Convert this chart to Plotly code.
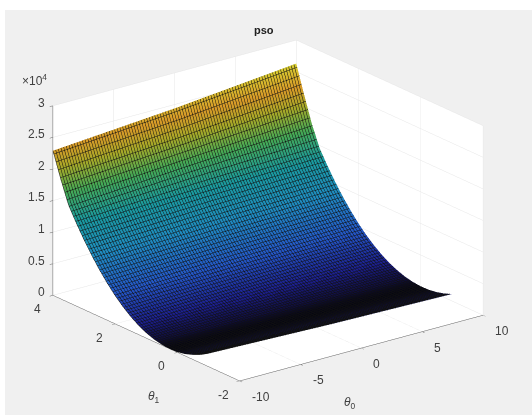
import math
import plotly.graph_objects as go

theta0 = [-10, 0, 10]
theta1 = [-1.0, -0.75, -0.5, -0.25, 0.0, 0.25, 0.5, 0.75, 1.0, 1.25, 1.5, 1.75, 2.0, 2.25, 2.5, 2.75, 3.0, 3.25, 3.5, 3.75, 4.0]
z_left = [2100, 1350, 780, 340, 90, 30, 130, 400, 850, 1480, 2300, 3300, 4480, 5850, 7400, 9130, 11050, 13150, 15450, 19000, 22900]
z_mid = [1500, 900, 450, 170, 50, 80, 290, 670, 1200, 1920, 2800, 3860, 5100, 6520, 8120, 9900, 11870, 14030, 16800, 20300, 24400]
z_right = [1100, 620, 280, 90, 60, 180, 450, 880, 1470, 2230, 3150, 4240, 5500, 6950, 8580, 10400, 12400, 14600, 17900, 22000, 26300]
z_ticks = [0, 5000, 10000, 15000, 20000, 25000, 30000]
z_labels = ["0", "0.5", "1", "1.5", "2", "2.5", "3"]
x_ticks = [-10, -5, 0, 5, 10]
x_labels = ["-10", "-5", "0", "5", "10"]
y_ticks = [-2, 0, 2, 4]
y_labels = ["-2", "0", "2", "4"]

z_grid = [[a, b, c] for a, b, c in zip(z_left, z_mid, z_right)]

colors = [
    [0.0, "#050510"], [0.012, "#100e40"], [0.06, "#1c1f90"], [0.18, "#2458c8"],
    [0.35, "#1f8cc0"], [0.5, "#1a9aa0"], [0.65, "#45a855"], [0.78, "#a8a828"],
    [0.88, "#d89a28"], [1.0, "#d8cf30"],
]

fig = go.Figure(go.Surface(
    x=theta0, y=theta1, z=z_grid, colorscale=colors, cmin=0, cmax=26300,
    showscale=False, hoverinfo="skip",
    lighting=dict(ambient=1, diffuse=0, specular=0, roughness=1, fresnel=0),
    contours=dict(
        x=dict(show=True, start=-10, end=10, size=0.22, color="#101010", width=1, highlight=False),
        y=dict(show=True, start=-1, end=4, size=0.07, color="#101010", width=1, highlight=False),
        z=dict(show=False, highlight=False),
    ),
))

font = dict(family="Liberation Sans", size=12, color="#404040")
def axis(**kw):
    return dict(showbackground=True, backgroundcolor="white", gridcolor="#e6e6e6", gridwidth=1,
                showline=True, linecolor="#606060", linewidth=1, ticks="outside", ticklen=4,
                tickcolor="#606060", showticklabels=False, zeroline=False, showspikes=False,
                title=dict(text=""), **kw)

def label(x, y, z, text, xshift, yshift, xanchor="center"):
    return dict(x=x, y=y, z=z, text=text, showarrow=False, xshift=xshift, yshift=yshift,
                xanchor=xanchor, yanchor="middle", font=font)

scene_notes = (
    [label(v, -2, 0, t, 10, -16, "left") for v, t in zip(x_ticks, x_labels)]
    + [label(-10, v, 0, t, -16, -14) for v, t in zip(y_ticks, y_labels)]
    + [label(-10, 4, v, t, -6, 3, "right") for v, t in zip(z_ticks, z_labels)]
    + [label(0, -2, 0, "<i>θ</i><sub>0</sub>", -11, -55), label(-10, 1, 0, "<i>θ</i><sub>1</sub>", 8, -59)]
)

az = math.radians(37.5)
el = math.radians(20.6)
d = 2.0
s = 1.515
fig.update_layout(
    width=532, height=415, margin=dict(l=0, r=0, t=0, b=0), paper_bgcolor="#f0f0f0",
    showlegend=False,
    scene=dict(
        domain=dict(x=[0.008, 1], y=[0.005, 0.981]),
        aspectmode="manual", aspectratio=dict(x=s, y=s, z=0.66 * s),
        camera=dict(projection=dict(type="orthographic"),
                    eye=dict(x=-d * math.sin(az) * math.cos(el), y=-d * math.cos(az) * math.cos(el), z=d * math.sin(el)),
                    up=dict(x=0, y=0, z=1), center=dict(x=0, y=0, z=0)),
        xaxis=axis(range=[-10, 10], tickvals=x_ticks),
        yaxis=axis(range=[-2, 4], tickvals=y_ticks),
        zaxis=axis(range=[0, 30000], tickvals=z_ticks),
        annotations=scene_notes,
    ),
    shapes=[
        dict(type="rect", xref="paper", yref="paper", x0=0, x1=1, y0=0.976, y1=1, fillcolor="white", line_width=0, layer="below"),
        dict(type="rect", xref="paper", yref="paper", x0=0, x1=0.0094, y0=0, y1=1, fillcolor="white", line_width=0, layer="below"),
    ],
    annotations=[
        dict(text="<b>pso</b>", x=264 / 532, y=1 - 30 / 415, xref="paper", yref="paper", showarrow=False,
             xanchor="center", yanchor="middle", font=dict(family="Liberation Sans", size=11, color="#202020")),
        dict(text="×10<sup>4</sup>", x=34 / 532, y=1 - 80 / 415, xref="paper", yref="paper", showarrow=False,
             xanchor="center", yanchor="middle", font=font),
    ],
)
fig.write_html("out.html", config={"displayModeBar": False},
               post_script="document.body.style.margin='0';window.dispatchEvent(new Event('resize'));")
